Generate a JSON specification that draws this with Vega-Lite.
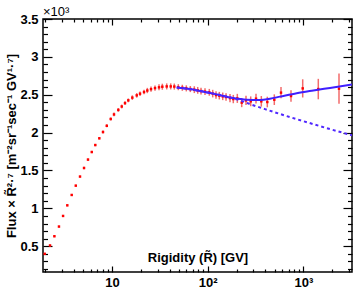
{
  "$schema": "https://vega.github.io/schema/vega-lite/v6.json",
  "width": 309,
  "height": 253,
  "autosize": "none",
  "padding": {"left": 43, "top": 19, "right": 2, "bottom": 22},
  "background": "white",
  "config": {
    "view": {"stroke": "black", "strokeWidth": 1.5},
    "axis": {"grid": false, "domain": false, "tickColor": "black", "tickWidth": 1.2,
      "labelFont": "Liberation Sans", "labelFontWeight": "bold", "labelFontSize": 13, "labelColor": "black",
      "titleFont": "Liberation Sans", "titleFontWeight": "bold", "titleFontSize": 13, "titleColor": "black",
      "labelFlush": false, "labelOverlap": false}
  },
  "title": {"text": "×10³", "anchor": "start", "frame": "group", "font": "Liberation Sans", "fontSize": 13, "fontWeight": "normal", "color": "black", "offset": 2, "dy": 8},
  "datasets": {
    "flux": [
      {"R": 1.98, "v": 0.40, "lo": 0.388, "hi": 0.412},
      {"R": 2.25, "v": 0.51, "lo": 0.498, "hi": 0.522},
      {"R": 2.50, "v": 0.632, "lo": 0.620, "hi": 0.644},
      {"R": 2.79, "v": 0.76, "lo": 0.748, "hi": 0.772},
      {"R": 3.08, "v": 0.90, "lo": 0.888, "hi": 0.912},
      {"R": 3.41, "v": 1.04, "lo": 1.028, "hi": 1.052},
      {"R": 3.79, "v": 1.177, "lo": 1.165, "hi": 1.189},
      {"R": 4.18, "v": 1.30, "lo": 1.288, "hi": 1.312},
      {"R": 4.63, "v": 1.42, "lo": 1.408, "hi": 1.432},
      {"R": 5.10, "v": 1.533, "lo": 1.518, "hi": 1.548},
      {"R": 5.61, "v": 1.644, "lo": 1.629, "hi": 1.659},
      {"R": 6.14, "v": 1.744, "lo": 1.729, "hi": 1.759},
      {"R": 6.69, "v": 1.836, "lo": 1.821, "hi": 1.851},
      {"R": 7.37, "v": 1.925, "lo": 1.910, "hi": 1.940},
      {"R": 8.05, "v": 2.008, "lo": 1.988, "hi": 2.028},
      {"R": 8.81, "v": 2.09, "lo": 2.07, "hi": 2.11},
      {"R": 9.69, "v": 2.18, "lo": 2.16, "hi": 2.20},
      {"R": 10.49, "v": 2.24, "lo": 2.215, "hi": 2.265},
      {"R": 11.64, "v": 2.30, "lo": 2.275, "hi": 2.325},
      {"R": 12.63, "v": 2.345, "lo": 2.32, "hi": 2.37},
      {"R": 13.67, "v": 2.39, "lo": 2.365, "hi": 2.415},
      {"R": 14.80, "v": 2.426, "lo": 2.401, "hi": 2.451},
      {"R": 16.30, "v": 2.462, "lo": 2.432, "hi": 2.492},
      {"R": 18.12, "v": 2.492, "lo": 2.462, "hi": 2.522},
      {"R": 19.62, "v": 2.514, "lo": 2.484, "hi": 2.544},
      {"R": 21.60, "v": 2.536, "lo": 2.506, "hi": 2.566},
      {"R": 23.38, "v": 2.556, "lo": 2.521, "hi": 2.591},
      {"R": 25.56, "v": 2.574, "lo": 2.539, "hi": 2.609},
      {"R": 28.14, "v": 2.588, "lo": 2.553, "hi": 2.623},
      {"R": 30.98, "v": 2.598, "lo": 2.558, "hi": 2.638},
      {"R": 33.55, "v": 2.606, "lo": 2.566, "hi": 2.646},
      {"R": 37.29, "v": 2.61, "lo": 2.57, "hi": 2.65},
      {"R": 41.06, "v": 2.61, "lo": 2.57, "hi": 2.65},
      {"R": 44.77, "v": 2.608, "lo": 2.568, "hi": 2.648},
      {"R": 49.30, "v": 2.60, "lo": 2.56, "hi": 2.64},
      {"R": 54.28, "v": 2.592, "lo": 2.552, "hi": 2.632},
      {"R": 59.77, "v": 2.584, "lo": 2.544, "hi": 2.624},
      {"R": 65.80, "v": 2.575, "lo": 2.535, "hi": 2.615},
      {"R": 72.44, "v": 2.567, "lo": 2.522, "hi": 2.612},
      {"R": 78.63, "v": 2.558, "lo": 2.513, "hi": 2.603},
      {"R": 85.11, "v": 2.549, "lo": 2.504, "hi": 2.594},
      {"R": 93.71, "v": 2.541, "lo": 2.496, "hi": 2.586},
      {"R": 103.9, "v": 2.532, "lo": 2.487, "hi": 2.577},
      {"R": 112.8, "v": 2.515, "lo": 2.465, "hi": 2.565},
      {"R": 122.1, "v": 2.496, "lo": 2.446, "hi": 2.546},
      {"R": 132.2, "v": 2.488, "lo": 2.438, "hi": 2.538},
      {"R": 143.5, "v": 2.479, "lo": 2.429, "hi": 2.529},
      {"R": 155.4, "v": 2.47, "lo": 2.42, "hi": 2.52},
      {"R": 171.0, "v": 2.456, "lo": 2.401, "hi": 2.511},
      {"R": 185.1, "v": 2.443, "lo": 2.388, "hi": 2.498},
      {"R": 203.9, "v": 2.452, "lo": 2.392, "hi": 2.512},
      {"R": 226.6, "v": 2.396, "lo": 2.336, "hi": 2.456},
      {"R": 251.3, "v": 2.426, "lo": 2.366, "hi": 2.486},
      {"R": 281.4, "v": 2.413, "lo": 2.348, "hi": 2.478},
      {"R": 319.7, "v": 2.448, "lo": 2.383, "hi": 2.513},
      {"R": 363.2, "v": 2.413, "lo": 2.343, "hi": 2.483},
      {"R": 419.6, "v": 2.404, "lo": 2.334, "hi": 2.474},
      {"R": 496.5, "v": 2.435, "lo": 2.365, "hi": 2.505},
      {"R": 583.3, "v": 2.528, "lo": 2.455, "hi": 2.601},
      {"R": 742.0, "v": 2.483, "lo": 2.406, "hi": 2.56},
      {"R": 983.3, "v": 2.584, "lo": 2.464, "hi": 2.704},
      {"R": 1431, "v": 2.575, "lo": 2.44, "hi": 2.71},
      {"R": 2355, "v": 2.58, "lo": 2.38, "hi": 2.78}
    ],
    "fitBroken": [
      {"R": 47.4, "v": 2.595}, {"R": 65.3, "v": 2.575}, {"R": 83.1, "v": 2.55},
      {"R": 114.4, "v": 2.515}, {"R": 151.7, "v": 2.478}, {"R": 185.1, "v": 2.456},
      {"R": 255.6, "v": 2.435}, {"R": 352.1, "v": 2.432}, {"R": 447.7, "v": 2.448},
      {"R": 569.5, "v": 2.475}, {"R": 851.1, "v": 2.52}, {"R": 1269, "v": 2.556},
      {"R": 1896, "v": 2.59}, {"R": 3220, "v": 2.635}
    ],
    "fitSingle": [
      {"R": 47.4, "v": 2.595}, {"R": 83.1, "v": 2.55}, {"R": 114.4, "v": 2.515},
      {"R": 151.7, "v": 2.482}, {"R": 217.5, "v": 2.425}, {"R": 290.4, "v": 2.367},
      {"R": 396.9, "v": 2.31}, {"R": 569.5, "v": 2.246}, {"R": 851.1, "v": 2.178},
      {"R": 1269, "v": 2.112}, {"R": 1896, "v": 2.047}, {"R": 3220, "v": 1.965}
    ]
  },
  "resolve": {"axis": {"x": "independent", "y": "independent"}},
  "layer": [
    {
      "data": {"name": "flux"},
      "mark": {"type": "rule", "color": "#f26b6b", "strokeWidth": 1.5},
      "encoding": {
        "x": {"field": "R", "type": "quantitative",
          "scale": {"type": "log", "domain": [1.9, 3220], "nice": false},
          "axis": {"orient": "bottom", "values": [10, 100, 1000],
            "labelExpr": "datum.value == 10 ? '10' : datum.value == 100 ? '10²' : '10³'",
            "tickSize": -6, "labelPadding": 10,
            "title": "Rigidity (R̃) [GV]", "titleX": 154.5, "titleY": -11,
            "titleAlign": "center", "titleBaseline": "alphabetic"}},
        "y": {"field": "lo", "type": "quantitative",
          "scale": {"domain": [0.16, 3.5], "nice": false, "zero": false},
          "axis": {"orient": "left", "values": [0.5, 1, 1.5, 2, 2.5, 3, 3.5], "format": "~g",
            "tickSize": -9, "labelPadding": 14,
            "title": "Flux × R̃²·⁷  [m⁻²sr⁻¹sec⁻¹ GV¹·⁷]", "titleX": -25, "titleY": 126.5,
            "titleAngle": 270, "titleAlign": "center", "titleBaseline": "bottom"}},
        "y2": {"field": "hi"}
      }
    },
    {
      "data": {"name": "flux"},
      "mark": {"type": "square", "size": 6, "color": "#ff0000", "opacity": 1},
      "encoding": {
        "x": {"field": "R", "type": "quantitative",
          "scale": {"type": "log", "domain": [1.9, 3220], "nice": false},
          "axis": {"orient": "bottom", "values": [2, 3, 4, 5, 6, 7, 8, 9, 20, 30, 40, 50, 60, 70, 80, 90, 200, 300, 400, 500, 600, 700, 800, 900, 2000, 3000],
            "labels": false, "tickSize": -3, "title": null}},
        "y": {"field": "v", "type": "quantitative",
          "scale": {"domain": [0.16, 3.5], "nice": false, "zero": false},
          "axis": {"orient": "left", "values": [0.2, 0.3, 0.4, 0.6, 0.7, 0.8, 0.9, 1.1, 1.2, 1.3, 1.4, 1.6, 1.7, 1.8, 1.9, 2.1, 2.2, 2.3, 2.4, 2.6, 2.7, 2.8, 2.9, 3.1, 3.2, 3.3, 3.4],
            "labels": false, "tickSize": -4.5, "title": null}}
      }
    },
    {
      "data": {"name": "fitBroken"},
      "mark": {"type": "line", "color": "#3f1fff", "strokeWidth": 2, "interpolate": "monotone", "clip": true},
      "encoding": {
        "x": {"field": "R", "type": "quantitative",
          "scale": {"type": "log", "domain": [1.9, 3220], "nice": false},
          "axis": {"orient": "top", "values": [10, 100, 1000], "labels": false, "tickSize": -6, "title": null}},
        "y": {"field": "v", "type": "quantitative",
          "scale": {"domain": [0.16, 3.5], "nice": false, "zero": false},
          "axis": {"orient": "right", "values": [0.5, 1, 1.5, 2, 2.5, 3, 3.5], "labels": false, "tickSize": -9, "title": null}}
      }
    },
    {
      "data": {"name": "fitSingle"},
      "mark": {"type": "line", "color": "#4f26ff", "strokeWidth": 2, "strokeDash": [3, 3], "interpolate": "monotone", "clip": true},
      "encoding": {
        "x": {"field": "R", "type": "quantitative",
          "scale": {"type": "log", "domain": [1.9, 3220], "nice": false},
          "axis": {"orient": "top", "values": [2, 3, 4, 5, 6, 7, 8, 9, 20, 30, 40, 50, 60, 70, 80, 90, 200, 300, 400, 500, 600, 700, 800, 900, 2000, 3000],
            "labels": false, "tickSize": -3, "title": null}},
        "y": {"field": "v", "type": "quantitative",
          "scale": {"domain": [0.16, 3.5], "nice": false, "zero": false},
          "axis": {"orient": "right", "values": [0.2, 0.3, 0.4, 0.6, 0.7, 0.8, 0.9, 1.1, 1.2, 1.3, 1.4, 1.6, 1.7, 1.8, 1.9, 2.1, 2.2, 2.3, 2.4, 2.6, 2.7, 2.8, 2.9, 3.1, 3.2, 3.3, 3.4],
            "labels": false, "tickSize": -4.5, "title": null}}
      }
    }
  ]
}
